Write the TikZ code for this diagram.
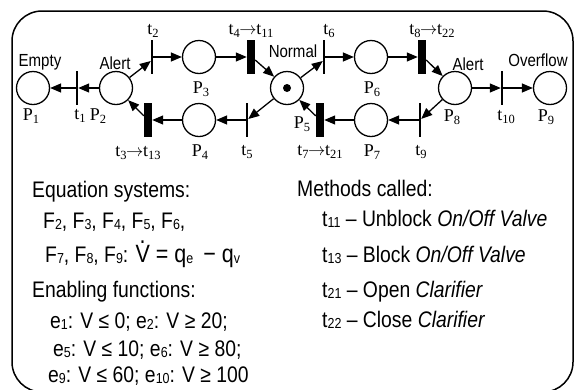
\documentclass[tikz,border=0pt]{standalone}
\usepackage{fontspec}
\setmainfont{Liberation Serif}
\newfontfamily\lsans{Liberation Sans}[FakeStretch=0.86]
\usetikzlibrary{arrows.meta,calc}
\newcommand\lsub[1]{\raisebox{-3.5pt}{\fontsize{12.5}{12.5}\selectfont #1}}
\newcommand\ssub[1]{\raisebox{-1.5pt}{\fontsize{14.5}{14.5}\selectfont #1}}
\newcommand\rarr{\kern-0.5pt$\rightarrow$\kern-0.5pt}
\newcommand\dotV{{\setbox0\hbox{V}\rlap{\hbox to\wd0{\hss\raisebox{0.74em}{.}\hss}}V}}
\tikzset{
  place/.style={circle, draw, line width=1.3pt, minimum size=33pt, inner sep=0pt},
  thintr/.style={fill=black, minimum width=2pt, minimum height=34pt, inner sep=0pt},
  thicktr/.style={fill=black, minimum width=8pt, minimum height=34pt, inner sep=0pt},
  arc/.style={line width=1.3pt, -{Triangle[length=11pt,width=9pt]}},
  lbl/.style={font=\fontsize{18}{18}\selectfont, inner sep=0pt},
  slbl/.style={font=\lsans\fontsize{17.5}{17.5}\selectfont, inner sep=0pt},
  txt/.style={font=\lsans\fontsize{22.5}{22.5}\selectfont, inner sep=0pt, anchor=base west},
}
\begin{document}
\begin{tikzpicture}[x=1pt,y=-1pt]
\useasboundingbox (0,0) rectangle (575,389);
\fill[white] (0,0) rectangle (575,389);
\clip (0,0) rectangle (575,389);
\draw[line width=1.5pt, rounded corners=30pt] (12,11) rectangle (573,392);
% places and transitions
\node[place] (P1) at (33,88) {};
\node[thintr] (t1) at (77,88) {};
\node[place] (P2) at (116,88) {};
\node[thintr] (t2) at (152,57) {};
\node[place] (P3) at (199,57) {};
\node[thicktr] (t4) at (251,57) {};
\node[place] (P5) at (287,88) {};
\node[circle, fill, minimum size=8pt, inner sep=0pt] (tok) at (287,88) {};
\node[thintr] (t6) at (324,57) {};
\node[place] (P6) at (371,57) {};
\node[thicktr] (t8) at (422,57) {};
\node[place] (P8) at (455,88) {};
\node[thintr] (t10) at (502,88) {};
\node[place] (P9) at (550,88) {};
\node[thicktr] (t3) at (148,120) {};
\node[place] (P4) at (199,120) {};
\node[thintr] (t5) at (247,120) {};
\node[thicktr] (t7) at (320,120) {};
\node[place] (P7) at (371,120) {};
\node[thintr] (t9) at (420,120) {};
% arcs
\draw[arc] (P2) -- (t1);
\draw[arc] (t1) -- (P1);
\draw[arc] (P2) -- ($(t2.west)+(0,4)$);
\draw[arc] (t2) -- (P3);
\draw[arc] (P3) -- (t4);
\draw[arc] ($(t4.east)+(0,3)$) -- (P5);
\draw[arc] (P5) -- (t5);
\draw[arc] (t5) -- (P4);
\draw[arc] (P4) -- (t3);
\draw[arc] (t3) -- (P2);
\draw[arc] (P5) -- ($(t6.west)+(0,4)$);
\draw[arc] (t6) -- (P6);
\draw[arc] (P6) -- (t8);
\draw[arc] ($(t8.east)+(0,3)$) -- (P8);
\draw[arc] (P8) -- (t10);
\draw[arc] (t10) -- (P9);
\draw[arc] (P8) -- (t9);
\draw[arc] (t9) -- (P7);
\draw[arc] (P7) -- (t7);
\draw[arc] (t7) -- (P5);
% labels
\node[slbl] (lEmpty) at (40,62) {Empty};
\node[slbl] (lAlert1) at (115,63) {Alert};
\node[slbl] (lNormal) at (293,51) {Normal};
\node[slbl] (lAlert2) at (468,64) {Alert};
\node[slbl] (lOver) at (538,60) {Overflow};
\node[lbl] (lP1) at (31,116) {P\lsub{1}};
\node[lbl] (lt1) at (80,116) {t\lsub{1}};
\node[lbl] (lP2) at (98,116) {P\lsub{2}};
\node[lbl] (lt2) at (153,31) {t\lsub{2}};
\node[lbl] (lP3) at (201,89) {P\lsub{3}};
\node[lbl] (lt4) at (251,31) {t\lsub{4}\rarr t\lsub{11}};
\node[lbl] (lP5) at (302,124) {P\lsub{5}};
\node[lbl] (lt6) at (329,31) {t\lsub{6}};
\node[lbl] (lP6) at (372,89) {P\lsub{6}};
\node[lbl] (lt8) at (432,31) {t\lsub{8}\rarr t\lsub{22}};
\node[lbl] (lP8) at (452,117) {P\lsub{8}};
\node[lbl] (lt10) at (506,117) {t\lsub{10}};
\node[lbl] (lP9) at (546,117) {P\lsub{9}};
\node[lbl] (lt3) at (138,153) {t\lsub{3}\rarr t\lsub{13}};
\node[lbl] (lP4) at (200,152) {P\lsub{4}};
\node[lbl] (lt5) at (247,152) {t\lsub{5}};
\node[lbl] (lt7) at (320,152) {t\lsub{7}\rarr t\lsub{21}};
\node[lbl] (lP7) at (372,152) {P\lsub{7}};
\node[lbl] (lt9) at (421,152) {t\lsub{9}};
% text
\node[txt] (e1) at (32,197) {Equation systems:};
\node[txt] (e2) at (43,228) {F\ssub{2}, F\ssub{3}, F\ssub{4}, F\ssub{5}, F\ssub{6},};
\node[txt] (e3) at (45,262) {F\ssub{7}, F\ssub{8}, F\ssub{9}: \smash{\fontsize{25}{25}\selectfont\dotV\ = q\ssub{e}\, − q\ssub{v}}};
\node[txt] (e4) at (32,297) {Enabling functions:};
\node[txt] (e5) at (50,328) {e\ssub{1}: V ≤ 0; e\ssub{2}: V ≥ 20;};
\node[txt] (e6) at (53,356) {e\ssub{5}: V ≤ 10; e\ssub{6}: V ≥ 80;};
\node[txt] (e7) at (48,382) {e\ssub{9}: V ≤ 60; e\ssub{10}: V ≥ 100};
\node[txt] (m1) at (297,196) {Methods called:};
\node[txt] (m2) at (322,226) {t\ssub{11} – Unblock \textit{On/Off Valve}};
\node[txt] (m3) at (322,262) {t\ssub{13} – Block \textit{On/Off Valve}};
\node[txt] (m4) at (322,297) {t\ssub{21} – Open \textit{Clarifier}};
\node[txt] (m5) at (322,327) {t\ssub{22} – Close \textit{Clarifier}};
\end{tikzpicture}
\end{document}
